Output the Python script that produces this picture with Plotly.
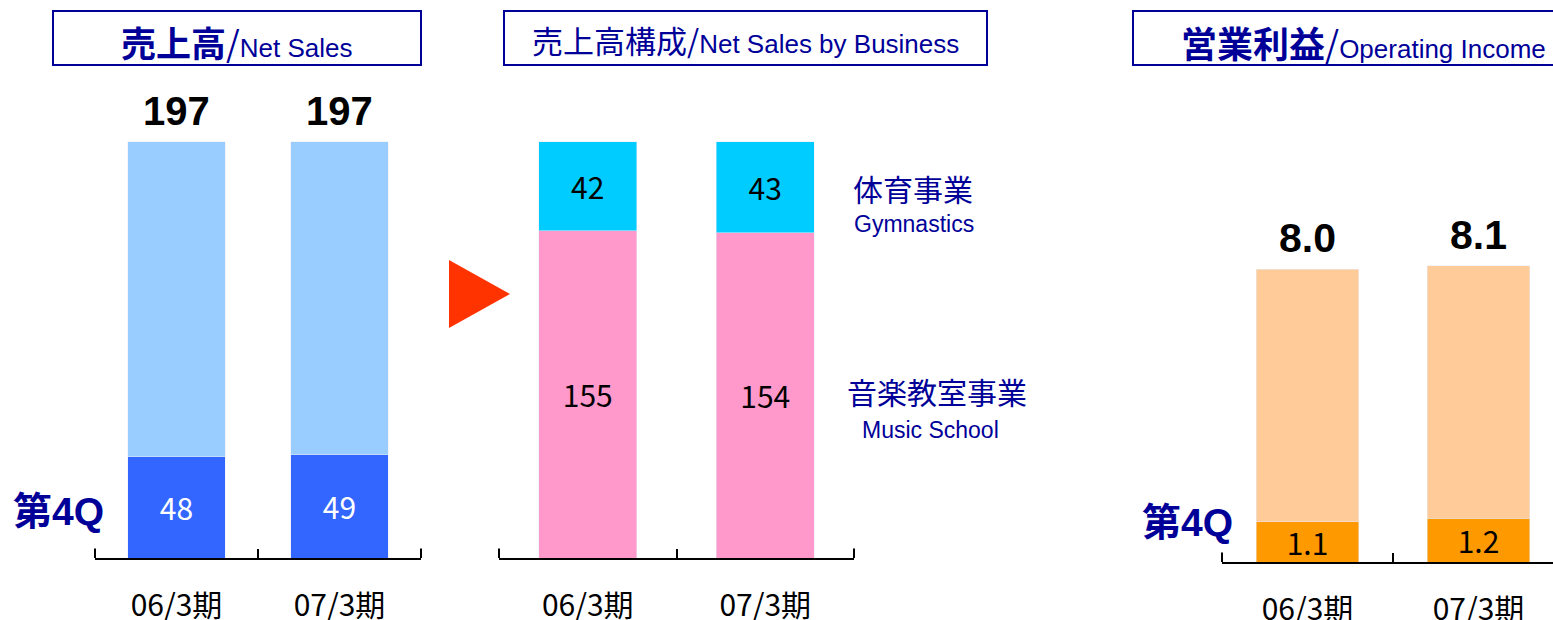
import plotly.graph_objects as go

# ---------------- data ----------------
periods = ["06/3期", "07/3期"]

sales_total = [197, 197]
sales_q4 = [48, 49]

biz_music = [155, 154]
biz_gym = [42, 43]

op_total = [8.0, 8.1]
op_q4 = [1.1, 1.2]

W, H = 1553, 620
NAVY = "#000099"
CJK = "Noto Sans CJK JP"
SANS = "Liberation Sans, Arial, sans-serif"
NUM = 30


def px(x):
    return x / W


def py(y):
    return 1 - y / H


fig = go.Figure()

# ---- panel 1: net sales ----
fig.add_trace(go.Bar(x=periods, y=sales_q4, marker_color="#3366FF", width=0.6,
                     text=[str(v) for v in sales_q4], textposition="inside",
                     insidetextanchor="middle", textangle=0, constraintext="none",
                     textfont=dict(family=CJK, size=NUM, color="white"),
                     xaxis="x", yaxis="y", hoverinfo="skip"))
fig.add_trace(go.Bar(x=periods, y=[t - q for t, q in zip(sales_total, sales_q4)],
                     marker_color="#99CCFF", width=0.6,
                     xaxis="x", yaxis="y", hoverinfo="skip"))

# ---- panel 2: sales by business ----
fig.add_trace(go.Bar(x=periods, y=biz_music, marker_color="#FF99CC", width=0.55,
                     text=[str(v) for v in biz_music], textposition="inside",
                     insidetextanchor="middle", textangle=0, constraintext="none",
                     textfont=dict(family=CJK, size=NUM, color="black"),
                     xaxis="x2", yaxis="y2", hoverinfo="skip"))
fig.add_trace(go.Bar(x=periods, y=biz_gym, marker_color="#00CCFF", width=0.55,
                     text=[str(v) for v in biz_gym], textposition="inside",
                     insidetextanchor="middle", textangle=0, constraintext="none",
                     textfont=dict(family=CJK, size=NUM, color="black"),
                     xaxis="x2", yaxis="y2", hoverinfo="skip"))

# ---- panel 3: operating income ----
fig.add_trace(go.Bar(x=periods, y=op_q4, marker_color="#FF9900", width=0.6,
                     text=[f"{v:.1f}" for v in op_q4], textposition="inside",
                     insidetextanchor="middle", textangle=0, constraintext="none",
                     textfont=dict(family=CJK, size=NUM, color="black"),
                     xaxis="x3", yaxis="y3", hoverinfo="skip"))
fig.add_trace(go.Bar(x=periods, y=[t - q for t, q in zip(op_total, op_q4)],
                     marker_color="#FFCC99", width=0.6,
                     xaxis="x3", yaxis="y3", hoverinfo="skip"))

# axes
common_x = dict(type="category", showline=True, linecolor="black", linewidth=2,
                ticks="inside", tickson="boundaries", ticklen=9, tickwidth=2,
                tickcolor="black", showgrid=False, zeroline=False, automargin=False,
                tickfont=dict(family=CJK, size=30, color="black"),
                ticklabelstandoff=20, fixedrange=True)
common_y = dict(visible=False, showgrid=False, zeroline=False, fixedrange=True,
                automargin=False)

fig.update_layout(
    width=W, height=H, margin=dict(l=0, r=0, t=0, b=0, autoexpand=False),
    paper_bgcolor="white", plot_bgcolor="rgba(0,0,0,0)",
    barmode="stack", showlegend=False,
    xaxis=dict(common_x, domain=[px(95), px(421)], range=[-0.5, 1.5], anchor="y"),
    yaxis=dict(common_y, domain=[py(558), 1], range=[0, 558 / 2.112], anchor="x"),
    xaxis2=dict(common_x, domain=[px(499), px(854)], range=[-0.5, 1.5], anchor="y2"),
    yaxis2=dict(common_y, domain=[py(558), 1], range=[0, 558 / 2.112], anchor="x2"),
    xaxis3=dict(common_x, domain=[px(1222), 1], range=[-0.5, -0.5 + 331 / 171], anchor="y3"),
    yaxis3=dict(common_y, domain=[py(562), 1], range=[0, 562 / 36.6], anchor="x3"),
)

ann = []
# total labels
for p, t in zip(periods, sales_total):
    ann.append(dict(x=p, y=t, xref="x", yref="y", text=f"<b>{t}</b>", showarrow=False,
                    xanchor="center", yanchor="bottom", yshift=7,
                    font=dict(family=SANS, size=40, color="black")))
for p, t in zip(periods, op_total):
    ann.append(dict(x=p, y=t, xref="x3", yref="y3", text=f"<b>{t:.1f}</b>", showarrow=False,
                    xanchor="center", yanchor="bottom", yshift=6,
                    font=dict(family=SANS, size=41, color="black")))


def label(x, y, text, font, xanchor="center"):
    ann.append(dict(x=px(x), y=py(y), xref="paper", yref="paper", showarrow=False,
                    xanchor=xanchor, yanchor="middle", text=text, font=font))


# titles
label(236, 41,
      f"<b><span style='font-family:{CJK};font-size:35px'>売上高</span></b>"
      f"<span style='font-family:{CJK};font-size:35px'>/</span>"
      "<span style='font-size:26px'>Net Sales</span>",
      dict(family=SANS, size=26, color=NAVY))
label(745, 40,
      f"<span style='font-family:{CJK};font-size:31px'>売上高構成/</span>"
      "<span style='font-size:26px'>Net Sales by Business</span>",
      dict(family=SANS, size=26, color=NAVY))
label(1179, 42,
      f"<b><span style='font-family:{CJK};font-size:36px'>営業利益</span></b>"
      f"<span style='font-family:{CJK};font-size:36px'>/</span>"
      "<span style='font-size:26px'>Operating Income</span>",
      dict(family=SANS, size=26, color=NAVY), xanchor="left")

# 第4Q labels
label(58, 508, f"<b><span style='font-family:{CJK}'>第</span>4Q</b>",
      dict(family=SANS, size=39, color=NAVY))
label(1187, 519, f"<b><span style='font-family:{CJK}'>第</span>4Q</b>",
      dict(family=SANS, size=39, color=NAVY))

# business labels
label(851, 188, "体育事業", dict(family=CJK, size=30, color=NAVY), xanchor="left")
label(852, 224, "Gymnastics", dict(family=SANS, size=23, color=NAVY), xanchor="left")
label(845, 391, "音楽教室事業", dict(family=CJK, size=30, color=NAVY), xanchor="left")
label(860, 430, "Music School", dict(family=SANS, size=23, color=NAVY), xanchor="left")

fig.update_layout(annotations=ann)

shapes = [
    dict(type="rect", xref="paper", yref="paper", x0=px(53), x1=px(421), y0=py(65), y1=py(11),
         line=dict(color=NAVY, width=2)),
    dict(type="rect", xref="paper", yref="paper", x0=px(504), x1=px(987), y0=py(65), y1=py(11),
         line=dict(color=NAVY, width=2)),
    dict(type="rect", xref="paper", yref="paper", x0=px(1133), x1=px(1700), y0=py(65), y1=py(11),
         line=dict(color=NAVY, width=2)),
    dict(type="path", xref="paper", yref="paper",
         path=f"M {px(449)} {py(260)} L {px(510)} {py(294)} L {px(449)} {py(328)} Z",
         fillcolor="#FF3300", line=dict(width=0)),
]
# end ticks of each category axis (axis frame decoration)
for xr, yr, ends in (("x", "y", (0, 1)), ("x2", "y2", (0, 1)), ("x3", "y3", (0,))):
    for e in ends:
        shapes.append(dict(type="line", xref=f"{xr} domain", yref=f"{yr} domain",
                           x0=e, x1=e, y0=0, y1=0.017, line=dict(color="black", width=2)))
fig.update_layout(shapes=shapes)

fig.write_html("out.html", config={"displayModeBar": False},
               post_script="document.body.style.margin='0px';document.body.style.overflow='hidden';")
